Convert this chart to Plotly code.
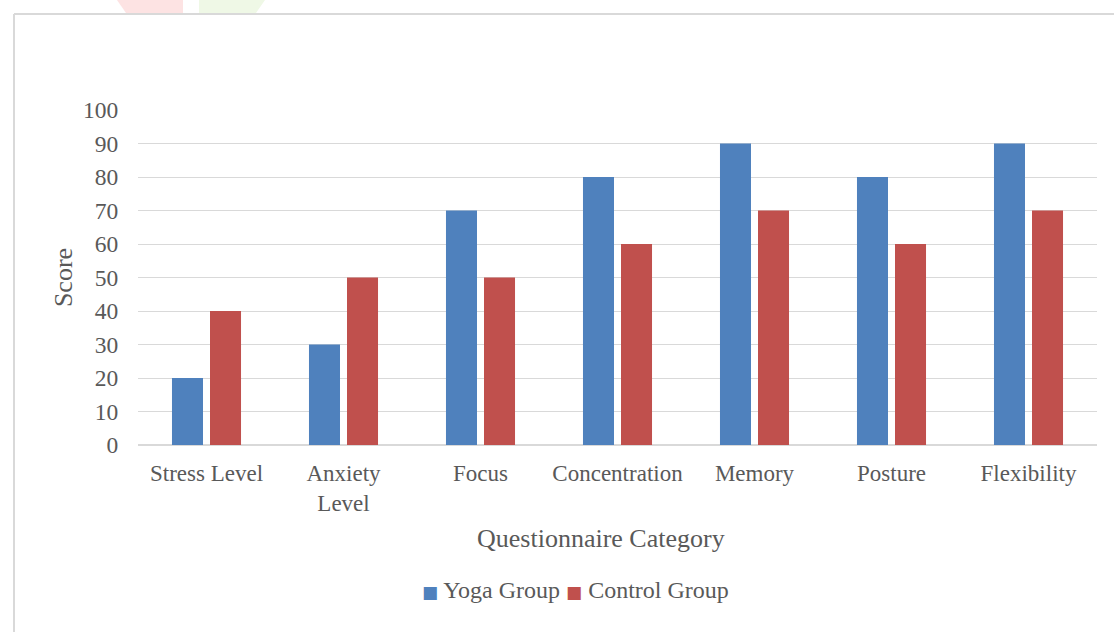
import plotly.graph_objects as go

categories = ["Stress Level", "Anxiety<br>Level", "Focus", "Concentration",
              "Memory", "Posture", "Flexibility"]
yoga_group = [20, 30, 70, 80, 90, 80, 90]
control_group = [40, 50, 50, 60, 70, 60, 70]
y_ticks = list(range(0, 101, 10))

W, H = 1114, 632
L, R, T, B = 138, 17, 110, 187
PW, PH = W - L - R, H - T - B
FONT = "Liberation Serif, Times New Roman, serif"
TXT = "#595959"
BLUE, RED = "#4f81bd", "#c0504d"


def px(x):
    return (x - L) / PW


def py(y):
    return (H - B - y) / PH


fig = go.Figure()
fig.add_bar(x=categories, y=yoga_group, name="Yoga Group",
            marker=dict(color=BLUE, line=dict(width=0)))
fig.add_bar(x=categories, y=control_group, name="Control Group",
            marker=dict(color=RED, line=dict(width=0)))

# chart frame and faint header marks
fig.add_shape(type="line", xref="paper", yref="paper",
              x0=px(14), x1=px(1200), y0=py(14), y1=py(14),
              line=dict(color="#d9d9d9", width=2))
fig.add_shape(type="line", xref="paper", yref="paper",
              x0=px(14), x1=px(14), y0=py(14), y1=py(700),
              line=dict(color="#d9d9d9", width=2))
fig.add_shape(type="path", xref="paper", yref="paper",
              path=f"M {px(117)} {py(0)} L {px(183)} {py(0)} L {px(183)} {py(13)} "
                   f"L {px(126)} {py(13)} Z",
              fillcolor="#fde3e3", line=dict(width=0))
fig.add_shape(type="path", xref="paper", yref="paper",
              path=f"M {px(199)} {py(0)} L {px(265)} {py(0)} L {px(256)} {py(13)} "
                   f"L {px(199)} {py(13)} Z",
              fillcolor="#eff8e6", line=dict(width=0))

# axis title and legend text
fig.add_annotation(xref="paper", yref="paper", x=px(601), y=py(538),
                   text="Questionnaire Category", showarrow=False,
                   font=dict(size=26, color=TXT), xanchor="center", yanchor="middle")
fig.add_annotation(
    xref="paper", yref="paper", x=px(575), y=py(590),
    text=(f"<span style='color:{BLUE};font-family:DejaVu Sans;font-size:17px'>■</span>"
          f" Yoga Group "
          f"<span style='color:{RED};font-family:DejaVu Sans;font-size:17px'>■</span>"
          f" Control Group"),
    showarrow=False, font=dict(size=24, color=TXT),
    xanchor="center", yanchor="middle")

fig.update_layout(
    width=W, height=H,
    margin=dict(l=L, r=R, t=T, b=B),
    paper_bgcolor="white", plot_bgcolor="white",
    font=dict(family=FONT, color=TXT, size=23.5),
    barmode="group", bargap=0.445, bargroupgap=0.184,
    showlegend=False,
    xaxis=dict(
        tickfont=dict(size=23, color=TXT), showgrid=False,
        showline=False, ticks="outside", ticklen=7, tickcolor="white",
        automargin=False,
    ),
    yaxis=dict(
        title=dict(text="Score", font=dict(size=26, color=TXT), standoff=2),
        range=[0, 100], tickvals=y_ticks, tickfont=dict(size=23.5, color=TXT),
        showgrid=True, gridcolor="#d9d9d9", gridwidth=1,
        zeroline=True, zerolinecolor="#d9d9d9", zerolinewidth=1.5,
        showline=False, ticks="outside", ticklen=14, tickcolor="white",
        automargin=False,
    ),
)

fig.write_html("out.html")
